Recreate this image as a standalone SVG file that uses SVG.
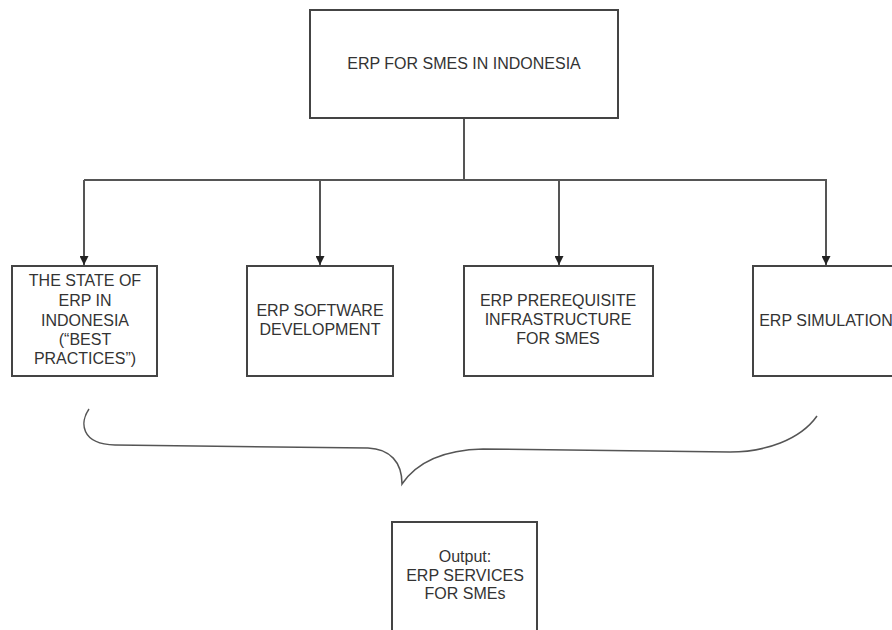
<svg xmlns="http://www.w3.org/2000/svg" width="892" height="630" viewBox="0 0 892 630">
<style>
.box{fill:#fff;stroke:#444;stroke-width:2}
.ln{fill:none;stroke:#555;stroke-width:2}
.t{font-family:"Liberation Sans",Arial,sans-serif;font-size:16px;fill:#333;text-anchor:middle}
</style>
<defs>
<marker id="arr" viewBox="0 0 10 10" refX="10" refY="5" markerWidth="9" markerHeight="9" markerUnits="userSpaceOnUse" orient="auto">
<path d="M0,0 L10,5 L0,10 Z" fill="#222"/>
</marker>
</defs>
<rect width="892" height="630" fill="#fff"/>
<g id="connectors">
<path class="ln" d="M464,118 V180"/>
<path class="ln" d="M84,180 H827"/>
<path class="ln" d="M84,180 V265" marker-end="url(#arr)"/>
<path class="ln" d="M320,180 V265" marker-end="url(#arr)"/>
<path class="ln" d="M559,180 V265" marker-end="url(#arr)"/>
<path class="ln" d="M826,180 V265" marker-end="url(#arr)"/>
</g>
<g id="top">
<rect class="box" x="310" y="10" width="308" height="108"/>
<text class="t" x="464" y="69">ERP FOR SMES IN INDONESIA</text>
</g>
<g id="state">
<rect class="box" x="12" y="266" width="145" height="110"/>
<text class="t" x="85" y="286">THE STATE OF</text>
<text class="t" x="85" y="306">ERP IN</text>
<text class="t" x="85" y="326">INDONESIA</text>
<text class="t" x="85" y="345">(“BEST</text>
<text class="t" x="85" y="364">PRACTICES”)</text>
</g>
<g id="software">
<rect class="box" x="247" y="266" width="146" height="110"/>
<text class="t" x="320" y="316">ERP SOFTWARE</text>
<text class="t" x="320" y="335">DEVELOPMENT</text>
</g>
<g id="infra">
<rect class="box" x="464" y="266" width="189" height="110"/>
<text class="t" x="558" y="306">ERP PREREQUISITE</text>
<text class="t" x="558" y="325">INFRASTRUCTURE</text>
<text class="t" x="558" y="344">FOR SMES</text>
</g>
<g id="simulation">
<rect class="box" x="753" y="266" width="147" height="110"/>
<text class="t" x="826" y="326">ERP SIMULATION</text>
</g>
<g id="brace">
<path fill="none" stroke="#555" stroke-width="1.5" d="M89,409 C80,422 80,444 115,445 L368,448 C390,449 402,462 402,484 C415,465 440,450 483,449 L730,452 C765,452 800,440 817,416"/>
</g>
<g id="output">
<rect class="box" x="392" y="522" width="145" height="116"/>
<text class="t" x="465" y="562">Output:</text>
<text class="t" x="465" y="581">ERP SERVICES</text>
<text class="t" x="465" y="599">FOR SMEs</text>
</g>
</svg>
